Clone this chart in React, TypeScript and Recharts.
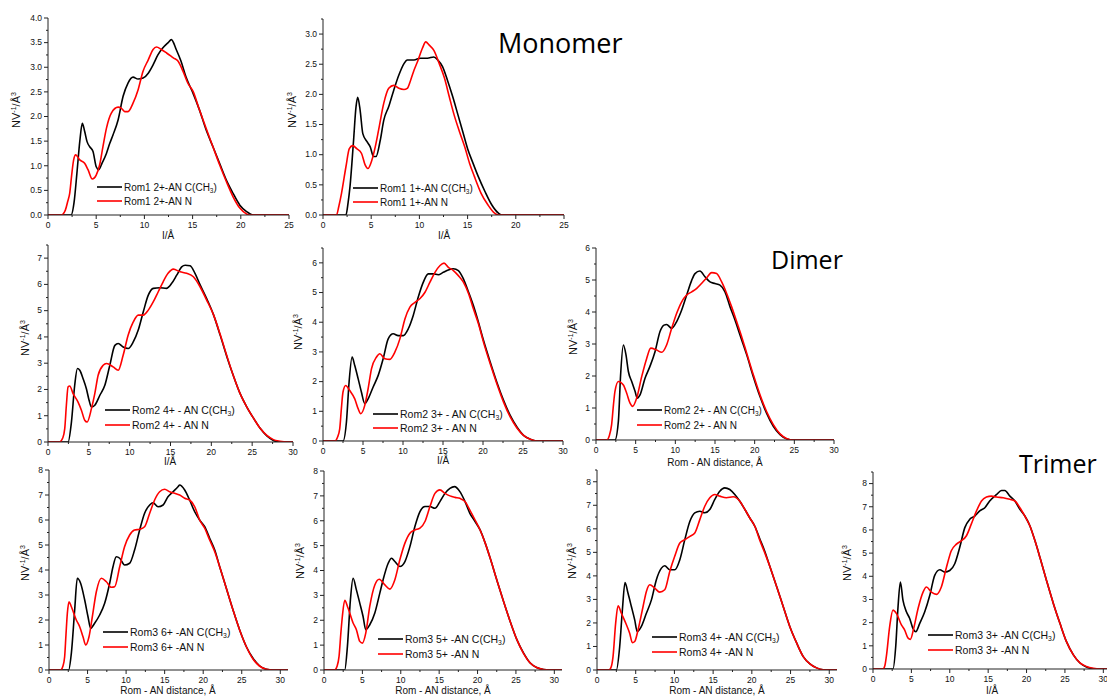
import React from "react";
import { LineChart, Line, XAxis, YAxis, Legend } from "recharts";

type Pt = [number, number];

// Rom1 monomer, 2+ and 1+
const rom1_2p_cch3: Pt[] = [[0,0],[2.4,0],[2.7,0.25],[3.0,0.85],[3.3,1.5],[3.56,1.86],[3.8,1.7],[4.05,1.49],[4.35,1.38],[4.67,1.29],[5.0,0.98],[5.26,0.92],[5.6,1.05],[6.06,1.25],[6.4,1.45],[6.75,1.63],[7.27,1.93],[7.79,2.41],[8.3,2.68],[8.82,2.8],[9.34,2.76],[9.86,2.78],[10.4,2.88],[10.9,3.05],[11.4,3.25],[11.9,3.39],[12.46,3.5],[12.8,3.56],[13.3,3.36],[13.8,3.12],[14.3,2.81],[15.05,2.47],[15.7,2.14],[16.4,1.73],[17.1,1.39],[17.8,1.05],[18.5,0.71],[19.2,0.44],[19.9,0.2],[20.6,0.07],[21.3,0],[25,0]];
const rom1_2p_n: Pt[] = [[0,0],[1.38,0],[1.8,0.1],[2.05,0.28],[2.25,0.44],[2.45,0.8],[2.66,1.12],[2.87,1.22],[3.29,1.12],[3.8,1.05],[4.15,0.92],[4.6,0.73],[5.0,0.81],[5.36,1.02],[5.7,1.39],[6.06,1.76],[6.57,2.07],[7.27,2.19],[7.6,2.17],[7.96,2.1],[8.3,2.1],[8.82,2.27],[9.34,2.54],[9.86,2.92],[10.4,3.15],[10.9,3.36],[11.25,3.41],[11.76,3.36],[12.3,3.29],[13.0,3.19],[13.5,3.12],[14.0,2.92],[14.5,2.68],[15.05,2.51],[15.7,2.14],[16.4,1.76],[17.1,1.39],[17.8,1.02],[18.5,0.68],[19.2,0.37],[19.9,0.14],[20.6,0.02],[20.9,0],[25,0]];
const rom1_1p_cch3: Pt[] = [[0,0],[2.38,0],[2.6,0.2],[2.8,0.47],[3.15,1.19],[3.43,1.8],[3.6,1.95],[3.85,1.74],[4.13,1.35],[4.55,1.22],[4.9,1.13],[5.24,0.97],[5.5,0.97],[5.94,1.24],[6.3,1.57],[6.82,1.8],[7.34,2.07],[7.87,2.32],[8.4,2.51],[8.74,2.57],[9.44,2.57],[10.1,2.6],[10.84,2.6],[11.5,2.62],[11.9,2.57],[12.4,2.46],[12.9,2.24],[13.46,1.96],[14.0,1.66],[14.5,1.38],[15.0,1.1],[15.56,0.86],[16.1,0.64],[16.8,0.39],[17.5,0.17],[18.2,0.03],[18.5,0],[25,0]];
const rom1_1p_n: Pt[] = [[0,0],[1.4,0],[1.65,0.15],[1.92,0.36],[2.38,0.8],[2.73,1.1],[3.08,1.15],[3.5,1.1],[4.0,1.02],[4.37,0.83],[4.65,0.77],[5.07,0.91],[5.42,1.13],[5.77,1.41],[6.3,1.85],[6.82,2.1],[7.34,2.15],[7.87,2.1],[8.4,2.08],[8.74,2.1],[9.1,2.24],[9.44,2.4],[9.8,2.54],[10.3,2.76],[10.66,2.87],[11.0,2.82],[11.5,2.73],[12.06,2.51],[12.6,2.27],[13.1,1.96],[13.6,1.66],[14.16,1.38],[14.7,1.13],[15.2,0.86],[15.7,0.64],[16.4,0.36],[17.1,0.17],[17.8,0.03],[18.2,0],[25,0]];

// Rom2 dimer, 4+, 3+, 2+
const rom2_4p_cch3: Pt[] = [[0,0],[2.46,0],[2.87,0.76],[3.27,2.16],[3.6,2.8],[3.89,2.73],[4.3,2.41],[4.7,2.03],[5.03,1.59],[5.32,1.33],[5.73,1.4],[6.35,1.78],[6.96,2.16],[7.57,2.92],[8.19,3.68],[8.6,3.75],[9.2,3.62],[9.82,3.56],[10.44,3.81],[11.05,4.26],[11.67,4.96],[12.28,5.59],[12.9,5.85],[13.7,5.87],[14.5,5.85],[15.15,6.04],[15.76,6.35],[16.37,6.67],[16.8,6.73],[17.4,6.71],[18.0,6.42],[18.6,6.0],[19.4,5.48],[20.26,4.85],[21.1,4.05],[21.9,3.25],[22.7,2.52],[23.5,1.86],[24.35,1.33],[25.2,0.89],[26.0,0.51],[26.8,0.23],[27.6,0.06],[28.4,0],[30,0]];
const rom2_4p_n: Pt[] = [[0,0],[1.43,0],[1.8,0.15],[2.05,0.51],[2.25,1.4],[2.46,2.1],[2.66,2.13],[3.07,1.84],[3.68,1.52],[4.09,1.21],[4.5,0.83],[4.79,0.76],[5.32,1.27],[5.73,1.84],[6.14,2.54],[6.75,2.92],[7.16,2.99],[7.98,2.86],[8.6,2.73],[9.2,3.3],[9.82,4.07],[10.44,4.57],[11.05,4.83],[11.67,4.83],[12.28,5.02],[12.9,5.34],[13.5,5.72],[14.1,6.1],[14.7,6.42],[15.35,6.58],[16.17,6.48],[16.98,6.42],[17.8,6.29],[18.6,5.92],[19.4,5.42],[20.26,4.85],[21.1,4.08],[21.9,3.28],[22.7,2.52],[23.5,1.86],[24.35,1.33],[25.2,0.89],[26.0,0.51],[26.8,0.25],[27.6,0.09],[28.4,0.03],[29.3,0],[30,0]];
const rom2_3p_cch3: Pt[] = [[0,0],[2.5,0],[2.93,0.64],[3.26,1.98],[3.64,2.83],[3.97,2.54],[4.39,2.1],[4.8,1.65],[5.22,1.26],[5.64,1.42],[6.27,1.82],[6.9,2.21],[7.52,2.77],[8.15,3.44],[8.78,3.61],[9.4,3.55],[10.03,3.55],[10.66,3.78],[11.28,4.23],[11.9,4.84],[12.54,5.35],[13.16,5.63],[13.8,5.63],[14.4,5.6],[15.04,5.68],[15.67,5.76],[16.3,5.8],[16.92,5.74],[17.55,5.46],[18.2,5.01],[18.8,4.56],[19.43,4.0],[20.06,3.39],[20.9,2.66],[21.73,1.98],[22.57,1.37],[23.4,0.86],[24.24,0.47],[25.07,0.19],[25.9,0.06],[26.7,0],[30,0]];
const rom2_3p_n: Pt[] = [[0,0],[1.46,0],[1.8,0.12],[2.09,0.41],[2.3,1.1],[2.5,1.65],[2.84,1.87],[3.34,1.7],[3.97,1.42],[4.39,1.09],[4.72,0.92],[5.22,1.2],[5.64,1.76],[6.06,2.43],[6.69,2.83],[7.1,2.94],[7.73,2.77],[8.36,2.75],[8.98,2.99],[9.61,3.44],[10.24,4.11],[10.86,4.51],[11.5,4.67],[12.1,4.79],[12.75,5.01],[13.37,5.35],[14.0,5.68],[14.63,5.91],[15.13,5.99],[15.67,5.85],[16.3,5.74],[16.92,5.57],[17.55,5.35],[18.2,4.96],[18.8,4.45],[19.43,3.95],[20.06,3.33],[20.9,2.6],[21.73,1.93],[22.57,1.31],[23.4,0.81],[24.24,0.44],[25.07,0.19],[25.9,0.06],[26.7,0],[30,0]];
const rom2_2p_cch3: Pt[] = [[0,0],[2.39,0],[2.82,0.58],[3.1,2.03],[3.45,2.97],[3.78,2.66],[4.08,2.14],[4.5,1.83],[4.92,1.52],[5.2,1.31],[5.55,1.41],[6.18,1.93],[6.8,2.3],[7.44,2.76],[8.07,3.39],[8.57,3.59],[8.9,3.61],[9.54,3.49],[10.17,3.7],[10.8,4.06],[11.43,4.53],[12.06,4.99],[12.48,5.2],[13.1,5.28],[13.74,5.1],[14.37,4.94],[15.0,4.89],[15.63,4.84],[16.26,4.63],[16.9,4.16],[17.52,3.75],[18.15,3.28],[19.0,2.66],[19.83,1.98],[20.67,1.36],[21.5,0.84],[22.35,0.43],[23.2,0.17],[24.0,0.04],[24.9,0],[30,0]];
const rom2_2p_n: Pt[] = [[0,0],[1.34,0],[1.7,0.15],[1.97,0.48],[2.2,1.1],[2.39,1.52],[2.82,1.83],[3.45,1.72],[3.87,1.46],[4.29,1.15],[4.62,1.05],[5.13,1.31],[5.76,1.98],[6.39,2.55],[6.9,2.87],[7.65,2.81],[8.28,2.74],[8.9,2.97],[9.54,3.49],[10.17,3.96],[10.8,4.32],[11.43,4.53],[12.06,4.63],[12.7,4.74],[13.3,4.89],[13.95,5.07],[14.58,5.23],[15.2,5.2],[15.84,4.94],[16.47,4.58],[17.1,4.16],[17.73,3.7],[18.36,3.23],[19.0,2.71],[19.83,2.04],[20.67,1.41],[21.5,0.89],[22.35,0.48],[23.2,0.19],[24.0,0.05],[24.9,0],[30,0]];

// Rom3 trimer, 6+, 5+, 4+, 3+
const rom3_6p_cch3: Pt[] = [[0,0],[2.55,0],[2.9,0.67],[3.33,2.4],[3.67,3.67],[4.1,3.47],[4.63,2.8],[5.06,2.13],[5.4,1.67],[5.92,1.87],[6.57,2.2],[7.22,2.67],[7.87,3.47],[8.3,4.13],[8.73,4.53],[9.17,4.47],[9.8,4.2],[10.46,4.27],[11.1,4.8],[11.76,5.6],[12.4,6.27],[13.06,6.6],[13.5,6.69],[14.14,6.53],[14.8,6.6],[15.43,6.93],[16.08,7.13],[16.73,7.33],[16.95,7.4],[17.6,7.2],[18.24,6.8],[18.9,6.33],[19.54,6.0],[20.2,5.73],[20.84,5.27],[21.5,4.8],[22.14,4.13],[23.0,3.27],[23.87,2.4],[24.73,1.6],[25.6,0.93],[26.46,0.47],[27.3,0.17],[28.2,0.03],[29.05,0],[31,0]];
const rom3_6p_n: Pt[] = [[0,0],[1.51,0],[1.8,0.15],[2.03,0.53],[2.2,1.4],[2.38,2.27],[2.6,2.73],[2.9,2.53],[3.54,2.0],[3.98,1.73],[4.41,1.33],[4.76,1.0],[5.19,1.33],[5.62,2.13],[6.14,3.13],[6.79,3.67],[7.44,3.53],[8.08,3.31],[8.52,3.33],[9.17,4.13],[9.8,4.93],[10.46,5.4],[11.1,5.6],[11.76,5.63],[12.4,5.73],[13.06,6.27],[13.7,6.8],[14.35,7.13],[15.0,7.23],[15.65,7.13],[16.3,7.07],[16.95,7.0],[17.6,6.87],[18.24,6.8],[18.9,6.53],[19.54,6.0],[20.2,5.67],[20.84,5.2],[21.5,4.73],[22.14,4.13],[23.0,3.27],[23.87,2.4],[24.73,1.6],[25.6,0.93],[26.46,0.44],[27.3,0.16],[28.2,0.03],[29.05,0],[31,0]];
const rom3_5p_cch3: Pt[] = [[0,0],[2.7,0],[3.05,0.95],[3.44,2.82],[3.79,3.69],[4.22,3.22],[4.66,2.69],[5.09,2.15],[5.44,1.62],[5.96,1.82],[6.62,2.29],[7.27,3.09],[7.7,3.63],[8.36,4.29],[8.8,4.49],[9.23,4.36],[9.88,4.16],[10.54,4.36],[11.19,4.96],[11.84,5.77],[12.5,6.37],[13.15,6.57],[13.8,6.57],[14.45,6.5],[15.1,6.77],[15.76,7.1],[16.4,7.3],[17.0,7.37],[17.7,7.17],[18.37,6.77],[19.0,6.3],[19.68,5.97],[20.33,5.63],[21.0,5.1],[21.64,4.5],[22.5,3.63],[23.38,2.76],[24.25,1.95],[25.12,1.22],[26.0,0.68],[26.86,0.28],[27.7,0.1],[28.6,0.02],[29.3,0],[31,0]];
const rom3_5p_n: Pt[] = [[0,0],[1.39,0],[1.7,0.15],[1.96,0.55],[2.2,1.5],[2.39,2.15],[2.7,2.8],[3.13,2.49],[3.79,1.89],[4.22,1.62],[4.66,1.15],[5.0,1.08],[5.44,1.48],[5.96,2.56],[6.62,3.42],[7.2,3.65],[7.93,3.42],[8.58,3.25],[9.23,3.63],[9.88,4.43],[10.54,5.1],[11.19,5.5],[11.84,5.63],[12.5,5.7],[13.15,5.97],[13.8,6.57],[14.45,7.1],[15.1,7.24],[15.76,7.1],[16.4,7.0],[17.07,6.94],[17.7,6.9],[18.37,6.77],[19.0,6.43],[19.68,6.03],[20.33,5.63],[21.0,5.1],[21.64,4.5],[22.5,3.63],[23.38,2.76],[24.25,1.95],[25.12,1.22],[26.0,0.66],[26.86,0.28],[27.7,0.1],[28.6,0.02],[29.3,0],[31,0]];
const rom3_4p_cch3: Pt[] = [[0,0],[2.5,0],[2.93,0.99],[3.28,2.56],[3.62,3.72],[4.0,3.27],[4.44,2.7],[4.87,2.13],[5.2,1.63],[5.73,1.85],[6.38,2.41],[7.03,2.98],[7.67,3.84],[8.32,4.33],[8.75,4.43],[9.4,4.26],[10.04,4.26],[10.7,4.69],[11.34,5.54],[12.0,6.32],[12.63,6.68],[13.28,6.75],[13.92,6.68],[14.57,6.82],[15.2,7.24],[15.86,7.6],[16.5,7.74],[17.15,7.67],[17.8,7.46],[18.45,7.17],[19.1,6.82],[19.74,6.46],[20.4,6.1],[21.0,5.6],[21.68,5.04],[22.33,4.4],[23.2,3.55],[24.05,2.7],[24.9,1.85],[25.8,1.14],[26.64,0.57],[27.5,0.26],[28.36,0.09],[29.2,0.01],[29.87,0],[31,0]];
const rom3_4p_n: Pt[] = [[0,0],[1.55,0],[1.85,0.15],[2.07,0.57],[2.41,1.99],[2.72,2.73],[3.15,2.41],[3.8,1.92],[4.22,1.56],[4.57,1.16],[4.87,1.21],[5.3,1.7],[5.95,2.7],[6.38,3.34],[6.81,3.62],[7.46,3.48],[8.1,3.31],[8.75,3.41],[9.4,4.19],[10.04,4.83],[10.7,5.4],[11.34,5.54],[12.0,5.68],[12.63,5.82],[13.28,6.39],[13.92,6.96],[14.57,7.32],[15.2,7.46],[15.86,7.39],[16.72,7.32],[17.6,7.36],[18.45,7.17],[19.1,6.82],[19.74,6.46],[20.4,6.1],[21.0,5.54],[21.68,4.97],[22.33,4.4],[23.2,3.55],[24.05,2.7],[24.9,1.85],[25.8,1.14],[26.64,0.57],[27.5,0.26],[28.36,0.09],[29.2,0.01],[29.87,0],[31,0]];
const rom3_3p_cch3: Pt[] = [[0,0],[2.6,0],[2.96,0.97],[3.26,2.68],[3.57,3.75],[3.9,2.97],[4.35,2.47],[4.78,2.18],[5.2,1.75],[5.57,1.61],[6.09,1.97],[6.74,2.47],[7.4,3.18],[8.04,4.04],[8.7,4.28],[9.35,4.18],[10.0,4.25],[10.65,4.54],[11.3,5.25],[11.96,6.1],[12.6,6.46],[13.26,6.6],[13.9,6.82],[14.57,6.96],[15.2,7.25],[16.1,7.53],[16.74,7.7],[17.17,7.7],[17.83,7.46],[18.48,7.25],[19.13,6.89],[19.78,6.6],[20.43,6.18],[21.1,5.53],[21.74,4.82],[22.6,3.82],[23.5,2.82],[24.35,1.97],[25.2,1.18],[26.1,0.61],[26.96,0.26],[27.8,0.09],[28.7,0.01],[29.35,0],[31,0]];
const rom3_3p_n: Pt[] = [[0,0],[1.3,0],[1.55,0.15],[1.74,0.54],[2.17,1.83],[2.6,2.54],[3.04,2.4],[3.7,1.9],[4.13,1.68],[4.57,1.33],[4.87,1.28],[5.3,1.75],[5.87,2.61],[6.52,3.32],[6.96,3.54],[7.6,3.32],[8.26,3.22],[8.9,3.54],[9.57,4.39],[10.2,5.1],[10.87,5.39],[11.5,5.53],[12.17,5.75],[12.8,6.25],[13.48,6.82],[14.13,7.25],[14.78,7.42],[15.43,7.46],[16.1,7.42],[16.96,7.39],[17.83,7.32],[18.48,7.25],[19.13,6.96],[19.78,6.6],[20.43,6.18],[21.1,5.53],[21.74,4.82],[22.6,3.82],[23.5,2.82],[24.35,1.97],[25.2,1.18],[26.1,0.61],[26.96,0.26],[27.8,0.11],[28.7,0.03],[29.57,0],[31,0]];

const legendNames: [string, string][] = [
  ["Rom1 2+-AN C(CH3)", "Rom1 2+-AN N"],
  ["Rom1 1+-AN C(CH3)", "Rom1 1+-AN N"],
  ["Rom2 4+ - AN C(CH3)", "Rom2 4+ - AN N"],
  ["Rom2 3+ - AN C(CH3)", "Rom2 3+ - AN N"],
  ["Rom2 2+ - AN C(CH3)", "Rom2 2+ - AN N"],
  ["Rom3 6+ -AN C(CH3)", "Rom3 6+ -AN N"],
  ["Rom3 5+ -AN C(CH3)", "Rom3 5+ -AN N"],
  ["Rom3 4+ -AN C(CH3)", "Rom3 4+ -AN N"],
  ["Rom3 3+ -AN C(CH3)", "Rom3 3+ -AN N"],
];

const xTitleShort = "I/Å";
const xTitleLong = "Rom - AN distance, Å";

const BLACK = "#000000";
const RED = "#ff0000";
const AXIS = "#222222";
const FONT = "'Liberation Sans', Arial, sans-serif";

const YW = 30; // y axis width
const MT = 6; // top margin
const MR = 6;
const XH = 20;

const range = (max: number, step: number) => {
  const out: number[] = [];
  for (let i = 0; i * step <= max + 1e-9; i++) out.push(+(i * step).toFixed(4));
  return out;
};
const isMajor = (v: number, step: number) => Math.abs(v / step - Math.round(v / step)) < 1e-6;

const withSub = (s: string) => {
  const i = s.indexOf("CH3");
  if (i < 0) return s;
  return (
    <>
      {s.slice(0, i)}CH<tspan fontSize="0.65em" dy="2">3</tspan>
      <tspan dy="-2">{s.slice(i + 3)}</tspan>
    </>
  );
};

interface PanelCfg {
  left: number; top: number; w: number; h: number;
  xMax: number; yMax: number; yStep: number; dec: number;
  black: Pt[]; red: Pt[]; names: [string, string];
  legX: number; legY: number; legGap: number; legFont: number;
}

const Panel = ({ c }: { c: PanelCfg }) => {
  const chartLeft = c.left - YW;
  const chartTop = c.top - MT;
  const axisY = MT + c.h;
  const yTicks = range(c.yMax, c.yStep / 2);
  const xTicks = range(c.xMax, 2.5);
  const yTick = (p: any) => {
    const v = p.payload.value;
    const y = p.payload.coordinate ?? p.y;
    const major = isMajor(v, c.yStep);
    return (
      <g>
        <line x1={YW} x2={YW - (major ? 4 : 2)} y1={y} y2={y} stroke={AXIS} />
        {major && (
          <text x={YW - 6} y={y} dy="0.33em" textAnchor="end" fontSize={8.5} fill="#111" fontFamily={FONT}>
            {v.toFixed(c.dec)}
          </text>
        )}
      </g>
    );
  };
  const xTick = (p: any) => {
    const v = p.payload.value;
    const x = p.payload.coordinate ?? p.x;
    const major = isMajor(v, 5);
    return (
      <g>
        <line x1={x} x2={x} y1={axisY} y2={axisY + (major ? 4 : 2)} stroke={AXIS} />
        {major && (
          <text x={x} y={axisY + 12.5} textAnchor="middle" fontSize={8.5} fill="#111" fontFamily={FONT}>
            {v}
          </text>
        )}
      </g>
    );
  };
  const legendContent = () => (
    <svg width={170} height={c.legGap + 14} style={{ display: "block", overflow: "visible" }}>
      {[BLACK, RED].map((col, i) => {
        const y = 7 + i * c.legGap;
        return (
          <g key={i}>
            <line x1={0} x2={25} y1={y} y2={y} stroke={col} strokeWidth={1.6} />
            <text x={27} y={y} dy="0.35em" fontSize={c.legFont} fill="#111" fontFamily={FONT}>
              {withSub(c.names[i])}
            </text>
          </g>
        );
      })}
    </svg>
  );
  return (
    <div style={{ position: "absolute", left: chartLeft, top: chartTop }}>
      <LineChart width={YW + c.w + MR} height={MT + c.h + XH} margin={{ top: MT, right: MR, left: 0, bottom: 0 }}>
        <XAxis dataKey="x" type="number" domain={[0, c.xMax]} ticks={xTicks} interval={0} height={XH}
          allowDataOverflow stroke={AXIS} tickLine={false} tick={xTick} />
        <YAxis type="number" domain={[0, c.yMax]} ticks={yTicks} interval={0} width={YW}
          allowDataOverflow stroke={AXIS} tickLine={false} tick={yTick} />
        <Legend layout="horizontal" verticalAlign="middle" align="center" content={legendContent}
          wrapperStyle={{ left: c.legX - chartLeft, top: c.legY - 7 - chartTop, width: 170 }} />
        <Line data={c.black.map(([x, y]) => ({ x, y }))} dataKey="y" name={c.names[0]} type="monotone"
          stroke={BLACK} strokeWidth={1.6} dot={false} isAnimationActive={false} />
        <Line data={c.red.map(([x, y]) => ({ x, y }))} dataKey="y" name={c.names[1]} type="monotone"
          stroke={RED} strokeWidth={1.6} dot={false} isAnimationActive={false} />
      </LineChart>
    </div>
  );
};

const panels: PanelCfg[] = [
  { left: 48, top: 18, w: 241, h: 197, xMax: 25, yMax: 4, yStep: 0.5, dec: 1, black: rom1_2p_cch3, red: rom1_2p_n, names: legendNames[0], legX: 97, legY: 187, legGap: 14, legFont: 10 },
  { left: 323, top: 19, w: 241, h: 196, xMax: 25, yMax: 3.25, yStep: 0.5, dec: 1, black: rom1_1p_cch3, red: rom1_1p_n, names: legendNames[1], legX: 353, legY: 188, legGap: 14, legFont: 10 },
  { left: 48, top: 245, w: 245, h: 197, xMax: 30, yMax: 7.5, yStep: 1, dec: 0, black: rom2_4p_cch3, red: rom2_4p_n, names: legendNames[2], legX: 105, legY: 410, legGap: 15, legFont: 10.5 },
  { left: 323, top: 248, w: 240, h: 193, xMax: 30, yMax: 6.5, yStep: 1, dec: 0, black: rom2_3p_cch3, red: rom2_3p_n, names: legendNames[3], legX: 373, legY: 414, legGap: 14, legFont: 10.5 },
  { left: 596, top: 248, w: 238, h: 192, xMax: 30, yMax: 6, yStep: 1, dec: 0, black: rom2_2p_cch3, red: rom2_2p_n, names: legendNames[4], legX: 637, legY: 410, legGap: 15, legFont: 10 },
  { left: 49, top: 470, w: 239, h: 200, xMax: 31, yMax: 8, yStep: 1, dec: 0, black: rom3_6p_cch3, red: rom3_6p_n, names: legendNames[5], legX: 103, legY: 632, legGap: 15, legFont: 10.5 },
  { left: 324, top: 471, w: 238, h: 199, xMax: 31, yMax: 8, yStep: 1, dec: 0, black: rom3_5p_cch3, red: rom3_5p_n, names: legendNames[6], legX: 378, legY: 639, legGap: 15, legFont: 10.5 },
  { left: 597, top: 470, w: 240, h: 200, xMax: 31, yMax: 8.5, yStep: 1, dec: 0, black: rom3_4p_cch3, red: rom3_4p_n, names: legendNames[7], legX: 652, legY: 637, legGap: 15, legFont: 10.5 },
  { left: 873, top: 472, w: 238, h: 197, xMax: 31, yMax: 8.5, yStep: 1, dec: 0, black: rom3_3p_cch3, red: rom3_3p_n, names: legendNames[8], legX: 928, legY: 635, legGap: 15, legFont: 10.5 },
];

const yTitles: [number, number][] = [[16, 110], [292, 110], [25, 338], [298, 332], [573, 337], [25, 563], [300, 561], [572, 561], [847, 563]];
const xTitles: [number, number, string][] = [
  [168, 236, xTitleShort], [444, 236, xTitleShort], [170, 462, xTitleShort], [443, 461, xTitleShort],
  [715, 463, xTitleLong], [168, 691, xTitleLong], [443, 691, xTitleLong], [717, 691, xTitleLong], [992, 691, xTitleShort],
];
const groupTitles: [number, number, number, string][] = [[498, 54, 27, "Monomer"], [771, 269, 25, "Dimer"], [1019, 473, 25, "Trimer"]];

export default function App() {
  return (
    <div style={{ position: "fixed", left: 0, top: 0, width: 1107, height: 700, overflow: "hidden", background: "#fff", fontFamily: FONT }}>
      {panels.map((c, i) => <Panel key={i} c={c} />)}
      {yTitles.map(([x, y], i) => (
        <div key={"yt" + i} style={{ position: "absolute", left: x, top: y, transform: "translate(-50%,-50%) rotate(-90deg)", whiteSpace: "nowrap", fontSize: 11, color: "#111", lineHeight: 1 }}>
          NV<sup style={{ fontSize: 7 }}>-1</sup>/Å<sup style={{ fontSize: 7 }}>3</sup>
        </div>
      ))}
      {xTitles.map(([x, y, t], i) => (
        <div key={"xt" + i} style={{ position: "absolute", left: x, top: y, transform: "translate(-50%,-50%)", whiteSpace: "nowrap", fontSize: 10, color: "#111", lineHeight: 1 }}>
          {t}
        </div>
      ))}
      {groupTitles.map(([x, y, fs, t], i) => (
        <div key={"gt" + i} style={{ position: "absolute", left: x, top: y - fs * 1.07, fontSize: fs, fontFamily: "'Open Sans', sans-serif", color: "#000", lineHeight: 1.36, whiteSpace: "nowrap" }}>
          {t}
        </div>
      ))}
    </div>
  );
}
